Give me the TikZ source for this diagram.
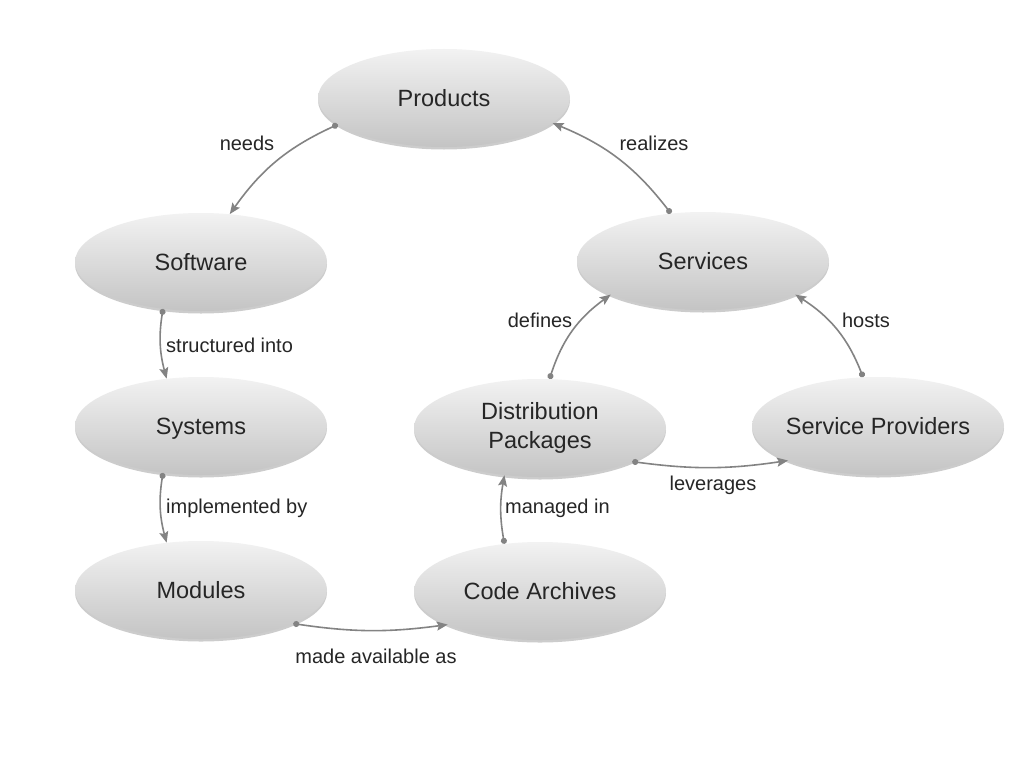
\documentclass[tikz,border=0pt]{standalone}
\usepackage{fontspec}
\setmainfont{Liberation Sans}
\usetikzlibrary{shapes.geometric,arrows.meta,shadows}
\definecolor{topc}{HTML}{F2F2F2}
\definecolor{botc}{HTML}{C4C4C4}
\definecolor{linec}{HTML}{838383}
\definecolor{txtc}{HTML}{262626}
\begin{document}
\begin{tikzpicture}[x=1pt,y=-1pt,
  concept/.style={ellipse, minimum width=252pt, minimum height=98pt,
    inner xsep=-15pt, inner ysep=0pt,
    top color=topc, bottom color=botc, draw=none, text=txtc,
    font=\fontsize{23.5}{28.5}\selectfont, align=center,
    drop shadow={shadow xshift=0pt, shadow yshift=-2.5pt, opacity=0.2, fill=black}},
  oneline/.style={text height=16.8pt, text depth=0pt},
  rel/.style={draw=linec, line width=1.6pt,
    {Circle[length=6pt]}-{Stealth[length=11pt,width=9pt,inset=2pt]}},
  lbl/.style={text=txtc, font=\fontsize{20}{24}\selectfont, inner sep=0pt}]
\useasboundingbox (0,0) rectangle (1024,768);
\fill[white] (0,0) rectangle (1024,768);

\node[concept, oneline] (prod) at (444,98) {Products};
\node[concept, oneline] (soft) at (201,262) {Software};
\node[concept, oneline] (sys) at (201,426) {Systems};
\node[concept, oneline] (mod) at (201,590) {Modules};
\node[concept, oneline] (serv) at (703,261) {Services};
\node[concept] (dist) at (540,428) {Distribution\\Packages};
\node[concept, oneline] (prov) at (878,426) {Service Providers};
\node[concept, oneline] (code) at (540,591) {Code Archives};

\draw[rel] (prod.194) to[bend right=15] (soft.59);
\draw[rel] (serv.124) to[bend right=15] (prod.347);
\draw[rel] (soft.231) to[bend right=12] (sys.126);
\draw[rel] (sys.231) to[bend right=12] (mod.126);
\draw[rel] (mod.340) to[bend right=8] (code.200);
\draw[rel] (code.127) to[bend left=10] (dist.233);
\draw[rel] (dist.79) to[bend left=18] (serv.200);
\draw[rel] (prov.107) to[bend right=18] (serv.340);
\draw[rel] (dist.340) to[bend right=8] (prov.201);

\node[lbl] (l1) at (247,143) {needs};
\node[lbl] (l2) at (654,143) {realizes};
\node[lbl, anchor=west] (l3) at (166,345) {structured into};
\node[lbl, anchor=west] (l4) at (166,508) {implemented by};
\node[lbl] (l5) at (376,656) {made available as};
\node[lbl, anchor=west] (l6) at (505,508) {managed in};
\node[lbl] (l7) at (540,320) {defines};
\node[lbl] (l8) at (866,320) {hosts};
\node[lbl] (l9) at (713,485) {leverages};
\end{tikzpicture}
\end{document}
